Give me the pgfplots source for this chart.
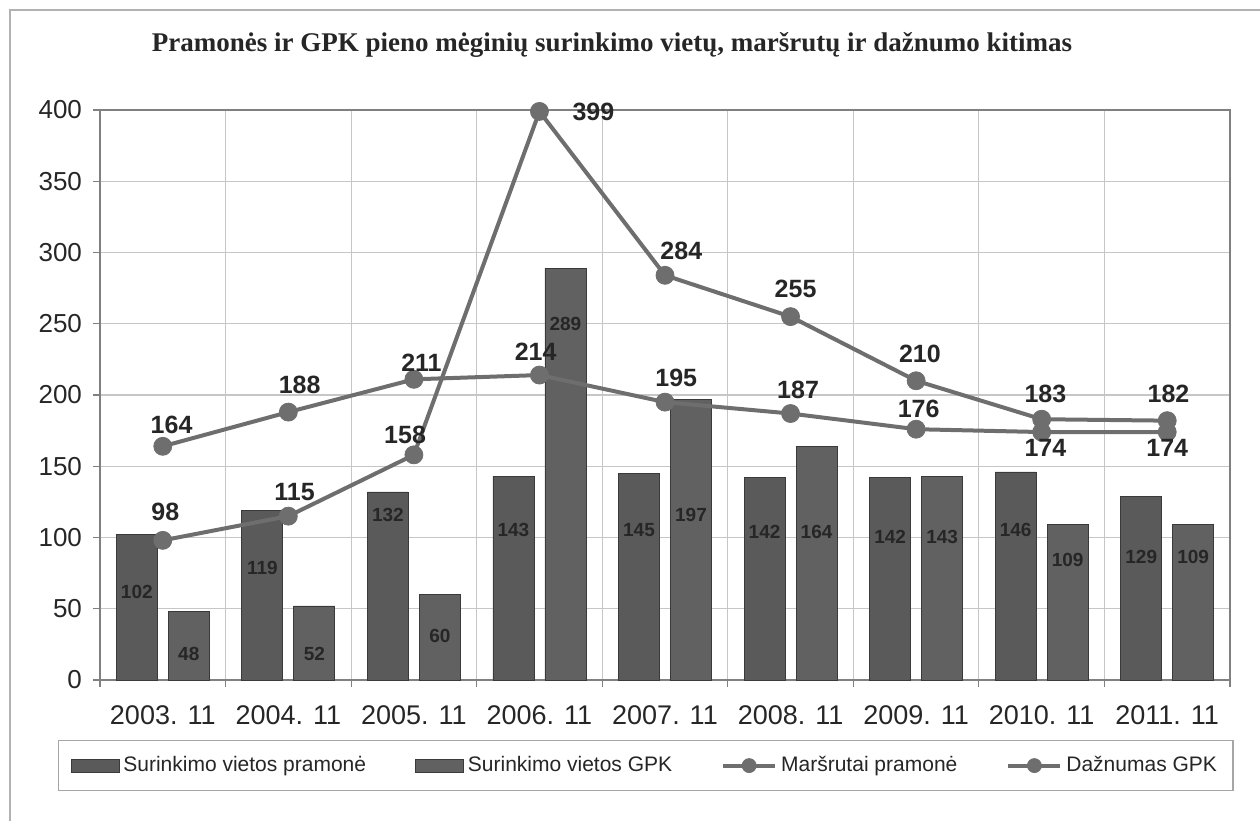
\documentclass[border=0pt]{standalone}
\usepackage{fontspec}
\setmainfont{Liberation Sans}
\newfontfamily\titlefont{Liberation Serif}
\usepackage{pgfplots}
\usepackage{pgfplotstable}
\pgfplotsset{compat=1.18}
\definecolor{barA}{HTML}{5A5A5A}
\definecolor{barB}{HTML}{616161}
\definecolor{barEdge}{HTML}{3A3A3A}
\definecolor{lineC}{HTML}{6E6E6E}
\definecolor{gridC}{HTML}{C6C6C6}
\definecolor{txtC}{HTML}{262626}

\pgfplotsset{
  barlegend/.style={legend image code/.code={\draw[##1] (0pt,-3.2pt) rectangle (24pt,3.2pt);}},
  linelegend/.style={legend image code/.code={\draw[##1, mark repeat=2, mark phase=2, mark size=3.5pt] plot coordinates {(0pt,0pt) (13pt,0pt) (26pt,0pt)};}},
}

\pgfplotstableread{
x pram gpk mars dazn
0 102 48  164 98
1 119 52  188 115
2 132 60  211 158
3 143 289 214 399
4 145 197 195 284
5 142 164 187 255
6 142 143 176 210
7 146 109 174 183
8 129 109 174 182
}\datatable

\pgfplotstableread{
x y l
0.07 179.3 164
1.09 207.4 188
2.06 222.9 211
2.97 230.6 214
4.09 212.3 195
5.06 203.9 187
6.02 190.5 176
7.03 163.0 174
8.00 163.0 174
0.02 118.0 98
1.05 132.2 115
1.93 172.0 158
3.43 398.6 399
4.13 300.9 284
5.04 274.2 255
6.03 228.5 210
7.03 201.0 183
8.01 201.0 182
}\linelabels

\pgfplotstableread{
x y l
-0.207 61.9 102
0.207 18.3 48
0.793 78.7 119
1.207 18.3 52
1.793 116.0 132
2.207 30.9 60
2.793 105.5 143
3.207 249.6 289
3.793 105.5 145
4.207 116.0 197
4.793 104.0 142
5.207 104.0 164
5.793 100.5 142
6.207 100.5 143
6.793 105.5 146
7.207 84.4 109
7.793 86.5 129
8.207 86.5 109
}\barlabels

\begin{document}
\begin{tikzpicture}
\useasboundingbox (0,0) rectangle (630pt,410.5pt);
\draw[gray!60, line width=0.8pt] (5pt,0) -- (5pt,405.5pt) -- (630pt,405.5pt);
\node[font=\titlefont\bfseries\fontsize{13.5}{16}\selectfont, text=txtC] at (306pt,388pt) {Pramonės ir GPK pieno mėginių surinkimo vietų, maršrutų ir dažnumo kitimas};
\begin{axis}[
  at={(50pt,70.5pt)}, anchor=south west,
  scale only axis, width=565pt, height=285pt,
  xmin=-0.5, xmax=8.5, ymin=0, ymax=400,
  xtick={-0.5,0.5,...,8.5},
  xticklabels={},
  extra x ticks={0,1,2,3,4,5,6,7,8},
  extra x tick labels={2003. 11,2004. 11,2005. 11,2006. 11,2007. 11,2008. 11,2009. 11,2010. 11,2011. 11},
  extra x tick style={grid=none, tick style={draw=none},
    xticklabel style={font=\fontsize{13.5}{15}\selectfont, text=txtC, yshift=-6pt}},
  ytick={0,50,...,400},
  ymajorgrids, xmajorgrids,
  grid style={gridC, line width=0.6pt},
  axis line style={gray, line width=0.6pt},
  tick pos=left, tick align=outside,
  major tick length=3.5pt,
  tick style={gray, line width=0.6pt},
  /pgf/number format/assume math mode=true,
  yticklabel style={font=\fontsize{13}{15}\selectfont, text=txtC, xshift=-2pt},
  legend columns=4,
  legend cell align=left,
  legend style={at={(axis description cs:-0.0372,-0.105)}, anchor=north west,
    draw=gray!70, line width=0.6pt, font=\fontsize{10.5}{12}\selectfont, text=txtC,
    inner xsep=6pt, inner ysep=6pt,
    /tikz/every even column/.append style={column sep=22.5pt}},
]
\addplot[ybar, bar width=0.326, bar shift=-0.207, fill=barA, draw=barEdge, line width=0.4pt, barlegend]
  table[x=x, y=pram]{\datatable};
\addlegendentry{Surinkimo vietos pramonė}
\addplot[ybar, bar width=0.326, bar shift=0.207, fill=barB, draw=barEdge, line width=0.4pt, barlegend]
  table[x=x, y=gpk]{\datatable};
\addlegendentry{Surinkimo vietos GPK}
\addplot[lineC, line width=2pt, mark=*, mark size=4.5pt, mark options={fill=lineC, draw=lineC, line width=0.4pt}, linelegend]
  table[x=x, y=mars]{\datatable};
\addlegendentry{Maršrutai pramonė}
\addplot[lineC, line width=2pt, mark=*, mark size=4.5pt, mark options={fill=lineC, draw=lineC, line width=0.4pt}, linelegend]
  table[x=x, y=dazn]{\datatable};
\addlegendentry{Dažnumas GPK}
\addplot[forget plot, draw=none, mark=none, nodes near coords, point meta=explicit symbolic,
  nodes near coords style={anchor=center, inner sep=0pt, text=txtC, font=\bfseries\fontsize{12.5}{14}\selectfont}]
  table[x=x, y=y, meta=l]{\linelabels};
\addplot[forget plot, draw=none, mark=none, nodes near coords, point meta=explicit symbolic,
  nodes near coords style={anchor=center, inner sep=0pt, text=txtC, font=\bfseries\fontsize{9.5}{11}\selectfont}]
  table[x=x, y=y, meta=l]{\barlabels};
\end{axis}
\end{tikzpicture}
\end{document}
